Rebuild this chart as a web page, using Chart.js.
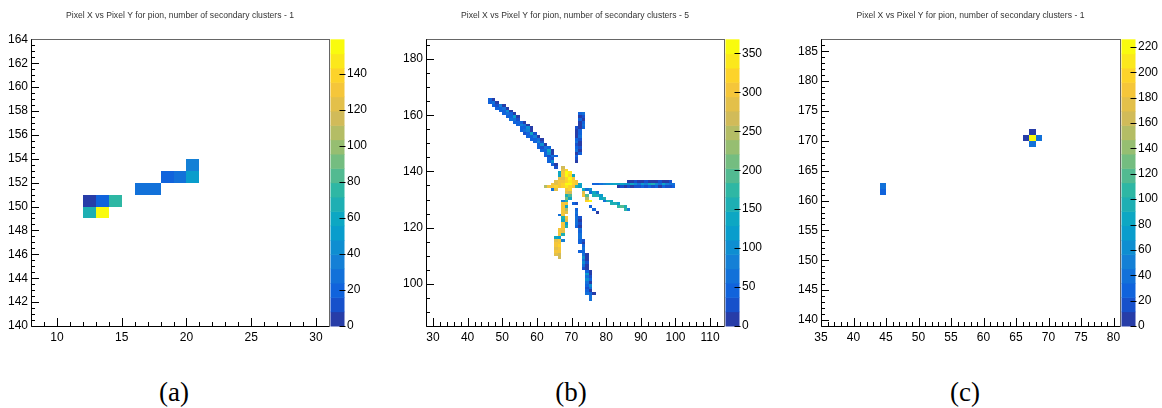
<!DOCTYPE html>
<html>
<head>
<meta charset="utf-8">
<script src="https://cdn.jsdelivr.net/npm/chart.js@4.4.1/dist/chart.umd.min.js"></script>
<style>
  html, body { margin: 0; padding: 0; background: #fff; }
  body { width: 1162px; height: 408px; position: relative; overflow: hidden; }
  .panel { position: absolute; top: 0; height: 345px; }
  .caption { position: absolute; top: 377px; line-height: 32px; font: 27px "Liberation Serif", "DejaVu Serif", serif; color: #000; transform: translateX(-50%); }
</style>
</head>
<body>
<div class="panel" style="left:0;width:390px"><canvas id="ch-a"></canvas></div>
<div class="panel" style="left:390px;width:390px"><canvas id="ch-b"></canvas></div>
<div class="panel" style="left:780px;width:382px"><canvas id="ch-c"></canvas></div>
<div class="caption" style="left:174px">(a)</div>
<div class="caption" style="left:571px">(b)</div>
<div class="caption" style="left:965px">(c)</div>

<script>
// cells are [pixelX, pixelY, count]

// (a) one secondary cluster
const cellsA = [
  [12, 149, 66], [13, 149, 152],
  [12, 150, 5], [13, 150, 22], [14, 150, 76],
  [16, 151, 30], [17, 151, 30],
  [18, 152, 20], [19, 152, 28], [20, 152, 54],
  [20, 153, 32],
];

// (b) five secondary clusters, one list per track
const trackNW = [
  [46, 165, 40], [47, 165, 15],
  [46, 164, 55], [47, 164, 60], [48, 164, 10],
  [47, 163, 45], [48, 163, 35], [49, 163, 90], [50, 163, 12],
  [48, 162, 55], [49, 162, 50], [50, 162, 70], [51, 162, 15],
  [49, 161, 40], [50, 161, 45], [51, 161, 110], [52, 161, 10],
  [50, 160, 50], [51, 160, 60], [52, 160, 55], [53, 160, 18],
  [51, 159, 45], [52, 159, 40], [53, 159, 120], [54, 159, 12],
  [52, 158, 65], [53, 158, 70], [54, 158, 20],
  [53, 157, 40], [54, 157, 50], [55, 157, 45], [56, 157, 10],
  [54, 156, 55], [55, 156, 85], [56, 156, 60], [57, 156, 15],
  [55, 155, 45], [56, 155, 55], [57, 155, 100], [58, 155, 14],
  [55, 154, 50], [56, 154, 60], [57, 154, 75], [58, 154, 12],
  [56, 153, 35], [57, 153, 45], [58, 153, 130], [59, 153, 25],
  [57, 152, 55], [58, 152, 50], [59, 152, 90], [60, 152, 15],
  [58, 151, 45], [59, 151, 40], [60, 151, 60], [61, 151, 12],
  [59, 150, 55], [60, 150, 80], [61, 150, 20],
  [60, 149, 50], [61, 149, 110], [62, 149, 16],
  [60, 148, 45], [61, 148, 20], [62, 148, 60], [63, 148, 45],
  [61, 147, 50], [62, 147, 45], [63, 147, 140], [64, 147, 15],
  [62, 146, 55], [63, 146, 95], [64, 146, 12],
  [62, 145, 45], [63, 145, 25], [64, 145, 70], [65, 145, 50],
  [63, 144, 40], [64, 144, 30],
  [63, 143, 55], [64, 143, 110],
  [64, 142, 45], [65, 142, 15],
  [65, 141, 20],
];

const trackN = [
  [72, 160, 45], [73, 160, 60], [72, 159, 15], [73, 159, 20], [72, 158, 50], [73, 158, 12],
  [72, 157, 18], [73, 157, 45], [72, 156, 10], [73, 156, 60], [72, 155, 14], [73, 155, 50],
  [71, 155, 20], [71, 154, 12], [72, 154, 55], [71, 153, 15], [72, 153, 40],
  [71, 152, 10], [72, 152, 60], [71, 151, 45], [72, 151, 20], [71, 150, 70],
  [72, 150, 15], [71, 149, 35], [72, 149, 12], [71, 148, 55], [72, 148, 20], [71, 147, 60],
  [72, 147, 15], [71, 146, 15], [72, 146, 50], [71, 145, 50], [71, 144, 20], [71, 143, 12],
];

const trackE = [
  [86, 136, 15], [87, 136, 12], [88, 136, 20], [89, 136, 10], [90, 136, 14], [91, 136, 25], [92, 136, 12],
  [93, 136, 18], [94, 136, 10], [95, 136, 22], [96, 136, 14], [97, 136, 12], [98, 136, 20],
  [76, 135, 55], [77, 135, 50], [78, 135, 65], [79, 135, 90], [80, 135, 110], [81, 135, 120],
  [82, 135, 130], [83, 135, 120], [84, 135, 140], [85, 135, 125], [86, 135, 110], [87, 135, 130],
  [88, 135, 100], [89, 135, 60], [90, 135, 120], [91, 135, 80], [92, 135, 130], [93, 135, 150],
  [94, 135, 110], [95, 135, 60], [96, 135, 140], [97, 135, 90], [98, 135, 70], [99, 135, 60],
  [83, 134, 15], [84, 134, 20], [85, 134, 12], [86, 134, 25], [87, 134, 15], [88, 134, 30],
  [89, 134, 20], [90, 134, 50], [91, 134, 25], [92, 134, 55], [93, 134, 20], [94, 134, 40],
  [95, 134, 15], [96, 134, 45], [97, 134, 20], [98, 134, 30], [99, 134, 50],
];

const trackSE = [
  [73, 133, 140], [74, 133, 60], [75, 133, 110], [75, 132, 70], [76, 132, 130], [77, 132, 90],
  [76, 131, 155], [77, 131, 150], [78, 131, 120],
  [78, 130, 145], [79, 130, 160], [79, 129, 60], [80, 129, 150], [81, 129, 140],
  [81, 128, 160], [82, 128, 150], [83, 128, 120],
  [83, 127, 175], [84, 127, 190], [85, 127, 150], [85, 126, 180], [86, 126, 80],
  [73, 132, 290], [73, 131, 310], [74, 131, 200], [74, 130, 240], [74, 129, 330], [75, 129, 360],
  [75, 127, 55], [76, 126, 50], [77, 125, 15],
];

const core = [
  [67, 141, 270], [67, 140, 290], [68, 140, 320],
  [66, 139, 140], [67, 139, 310], [68, 139, 355], [69, 139, 340],
  [66, 138, 140], [67, 138, 300], [68, 138, 360], [69, 138, 330], [70, 138, 130],
  [66, 137, 280], [67, 137, 290], [68, 137, 320], [69, 137, 350], [70, 137, 310],
  [65, 136, 290], [66, 136, 300], [67, 136, 310], [68, 136, 330], [69, 136, 345], [70, 136, 320], [71, 136, 300],
  [64, 135, 300], [65, 135, 290], [66, 135, 310], [67, 135, 320], [68, 135, 355], [69, 135, 365], [70, 135, 315], [71, 135, 300], [72, 135, 140],
  [62, 134, 250], [63, 134, 300], [64, 134, 310], [65, 134, 320], [66, 134, 305], [67, 134, 320],
  [68, 134, 340], [69, 134, 320], [70, 134, 300], [71, 134, 150], [72, 134, 120],
  [64, 133, 60], [65, 133, 290],
];

const trackS = [
  [69, 133, 320], [68, 133, 300], [69, 132, 260], [68, 132, 290], [69, 131, 200], [68, 131, 160],
  [68, 130, 210], [69, 130, 140], [68, 129, 150], [67, 129, 90], [68, 128, 300], [67, 128, 310],
  [67, 127, 300], [68, 127, 140], [67, 126, 310], [68, 126, 250], [67, 125, 300], [68, 125, 290],
  [67, 124, 310], [66, 124, 60], [67, 123, 150], [68, 123, 300], [67, 122, 130], [68, 122, 290],
  [67, 121, 300], [68, 121, 120], [67, 120, 300], [68, 120, 160],
  [66, 119, 310], [67, 119, 300], [66, 118, 310], [67, 118, 290], [66, 117, 300], [67, 117, 150],
  [65, 116, 140], [66, 116, 120], [66, 115, 300], [67, 115, 80], [65, 115, 290],
  [66, 114, 310], [65, 114, 300], [66, 113, 320], [65, 113, 300], [66, 112, 310], [65, 112, 290],
  [66, 111, 300], [65, 111, 310], [66, 110, 270], [65, 110, 280], [66, 109, 260],
  [70, 128, 50], [71, 128, 20],
];

const trackSS = [
  [71, 126, 50], [71, 125, 60], [71, 124, 50], [71, 123, 60], [72, 123, 20], [71, 122, 70],
  [72, 122, 15], [71, 121, 60], [72, 121, 20], [71, 120, 50], [72, 120, 15], [72, 119, 60], [72, 118, 50],
  [72, 117, 70], [72, 116, 60], [72, 115, 40], [73, 115, 20], [73, 114, 15], [72, 114, 50], [73, 113, 50],
  [73, 112, 60], [72, 111, 50], [73, 111, 40], [73, 110, 60], [74, 110, 15], [73, 109, 100],
  [74, 109, 10], [74, 108, 15], [73, 108, 70], [73, 107, 110], [74, 107, 20], [73, 106, 60],
  [74, 106, 10], [73, 105, 25], [74, 105, 10], [74, 104, 50], [75, 104, 15], [74, 103, 120],
  [75, 103, 10], [74, 102, 60], [75, 102, 20], [74, 101, 100], [75, 101, 40], [74, 100, 60],
  [75, 100, 15], [74, 99, 50], [75, 99, 110], [74, 98, 20], [75, 98, 60], [74, 97, 40],
  [75, 97, 15], [74, 96, 60], [75, 96, 50], [76, 96, 10], [75, 95, 70], [75, 94, 60],
];

// (c) one secondary cluster
const cellsC = [
  [44, 161, 25], [44, 162, 45],
  [67, 169, 38], [66, 170, 5], [67, 170, 224], [68, 170, 35], [67, 171, 5],
];

const titleA = 'Pixel X vs Pixel Y for pion, number of secondary clusters - 1';
const titleB = 'Pixel X vs Pixel Y for pion, number of secondary clusters - 5';
const titleC = 'Pixel X vs Pixel Y for pion, number of secondary clusters - 1';

// kBird palette
const birdStops = [0, 0.125, 0.25, 0.375, 0.5, 0.625, 0.75, 0.875, 1];
const birdR = [0.2082, 0.0592, 0.0780, 0.0232, 0.1802, 0.5301, 0.8186, 0.9956, 0.9764];
const birdG = [0.1664, 0.3599, 0.5041, 0.6419, 0.7178, 0.7492, 0.7328, 0.7862, 0.9832];
const birdB = [0.5293, 0.8684, 0.8385, 0.7914, 0.6425, 0.4662, 0.3499, 0.1968, 0.0539];
const NLEVELS = 20;

function bird(t) {
  let i = 0;
  while (i < birdStops.length - 2 && t > birdStops[i + 1]) i++;
  const f = (t - birdStops[i]) / (birdStops[i + 1] - birdStops[i]);
  const c = arr => Math.round(255 * (arr[i] + f * (arr[i + 1] - arr[i])));
  return `rgb(${c(birdR)},${c(birdG)},${c(birdB)})`;
}
function levelColor(lvl) {
  const k = Math.floor((lvl + 0.99) * 255 / NLEVELS);
  return bird(Math.min(k, 254) / 254);
}
function cellColor(v, zmax) {
  return levelColor(Math.min(NLEVELS - 1, Math.floor(v / zmax * NLEVELS)));
}

const toPoints = cells => cells.map(([x, y, v]) => ({ x, y, v }));

// draws the bins, the palette, the frame and ROOT-style inner ticks
const th2Plugin = {
  id: 'th2',
  beforeDatasetsDraw(chart) {
    const { ctx, chartArea: a, scales: { x, y, z } } = chart;
    ctx.save();
    ctx.beginPath(); ctx.rect(a.left, a.top, a.width, a.height); ctx.clip();
    chart.data.datasets.forEach(ds => ds.data.forEach(p => {
      const x0 = Math.round(x.getPixelForValue(p.x)), x1 = Math.round(x.getPixelForValue(p.x + 1));
      const y0 = Math.round(y.getPixelForValue(p.y + 1)), y1 = Math.round(y.getPixelForValue(p.y));
      ctx.fillStyle = cellColor(p.v, z.max);
      ctx.fillRect(x0, y0, x1 - x0, y1 - y0);
    }));
    ctx.restore();
  },
  afterDraw(chart) {
    const { ctx, chartArea: a, scales: { x, y, z } } = chart;
    const minor = chart.options.plugins.th2;
    ctx.save();

    // palette
    const pl = a.right + 1.5, pr = a.right + 15.5;
    for (let i = 0; i < NLEVELS; i++) {
      const yb = z.getPixelForValue(i * z.max / NLEVELS), yt = z.getPixelForValue((i + 1) * z.max / NLEVELS);
      ctx.fillStyle = levelColor(i);
      ctx.fillRect(pl, yt, pr - pl, yb - yt + 0.5);
    }
    ctx.strokeStyle = '#000';
    ctx.lineWidth = 1;
    ctx.beginPath();
    z.ticks.forEach(t => {
      const py = Math.round(z.getPixelForValue(t.value)) + 0.5;
      ctx.moveTo(pr - 5, py); ctx.lineTo(pr + 1, py);
    });
    ctx.stroke();

    // ticks inside the frame
    ctx.beginPath();
    const majX = x.ticks.map(t => t.value), majY = y.ticks.map(t => t.value);
    const isMaj = (list, v) => list.some(m => Math.abs(m - v) < 1e-6);
    for (let v = Math.ceil(x.min / minor.x) * minor.x; v <= x.max + 1e-6; v += minor.x) {
      const px = Math.round(x.getPixelForValue(v)) + 0.5;
      const len = isMaj(majX, v) ? 8 : 4;
      ctx.moveTo(px, a.bottom); ctx.lineTo(px, a.bottom - len);
    }
    for (let v = Math.ceil(y.min / minor.y) * minor.y; v <= y.max + 1e-6; v += minor.y) {
      const py = Math.round(y.getPixelForValue(v)) + 0.5;
      const len = isMaj(majY, v) ? 8 : 4;
      ctx.moveTo(a.left, py); ctx.lineTo(a.left + len, py);
    }
    ctx.stroke();

    // frame
    ctx.strokeStyle = '#666';
    ctx.strokeRect(Math.round(a.left) + 0.5, Math.round(a.top) + 0.5, Math.round(a.width), Math.round(a.height));
    ctx.strokeStyle = '#000';
    ctx.beginPath();
    ctx.moveTo(Math.round(a.left) + 0.5, a.top); ctx.lineTo(Math.round(a.left) + 0.5, Math.round(a.bottom) + 0.5);
    ctx.lineTo(a.right, Math.round(a.bottom) + 0.5);
    ctx.stroke();
    ctx.restore();
  }
};

Chart.defaults.font.family = '"Liberation Sans", Arial, sans-serif';
Chart.defaults.color = '#000';

function th2Chart(id, p) {
  const W = p.width, H = 345;
  const tickFont = { size: 12 };
  return new Chart(document.getElementById(id), {
    type: 'scatter',
    data: { datasets: p.sets.map(cells => ({ data: toPoints(cells), pointRadius: 0, showLine: false })) },
    options: {
      responsive: true,
      maintainAspectRatio: false,
      animation: false,
      layout: { padding: 0 },
      plugins: {
        legend: { display: false },
        tooltip: { enabled: false },
        title: {
          display: true, text: p.title, fullSize: false, color: '#333',
          font: { size: 8.6, weight: 'normal' }, padding: { top: 10, bottom: 19 },
        },
        th2: { x: p.minorX, y: p.minorY },
      },
      scales: {
        x: {
          type: 'linear', position: 'bottom', min: p.xMin, max: p.xMax,
          grid: { display: false, drawTicks: false }, border: { display: false },
          ticks: { stepSize: p.xStep, includeBounds: false, padding: 4, font: tickFont, maxRotation: 0, autoSkip: false },
          afterFit: s => { s.height = H - 326; },
        },
        y: {
          type: 'linear', position: 'left', min: p.yMin, max: p.yMax,
          grid: { display: false, drawTicks: false }, border: { display: false },
          ticks: { stepSize: p.yStep, includeBounds: false, padding: 3, font: tickFont, autoSkip: false },
          afterFit: s => { s.width = p.left; },
        },
        z: {
          axis: 'y', type: 'linear', position: 'right', min: 0, max: p.zMax,
          grid: { display: true, drawOnChartArea: false, drawTicks: true, tickLength: 16, color: 'rgba(0,0,0,0)' },
          border: { display: false },
          ticks: { stepSize: p.zStep, includeBounds: false, padding: 2, font: tickFont, autoSkip: false },
          afterFit: s => { s.width = W - p.right; },
        },
      },
    },
    plugins: [th2Plugin],
  });
}

th2Chart('ch-a', {
  width: 390, left: 31, right: 329, title: titleA, sets: [cellsA],
  xMin: 8, xMax: 31, xStep: 5, minorX: 1,
  yMin: 140, yMax: 164, yStep: 2, minorY: 0.5,
  zMax: 159, zStep: 20,
});
th2Chart('ch-b', {
  width: 390, left: 36, right: 334, title: titleB,
  sets: [trackNW, trackN, trackE, trackSE, core, trackS, trackSS],
  xMin: 28, xMax: 114, xStep: 10, minorX: 2,
  yMin: 85, yMax: 187, yStep: 20, minorY: 5,
  zMax: 368, zStep: 50,
});
th2Chart('ch-c', {
  width: 382, left: 41, right: 340, title: titleC, sets: [cellsC],
  xMin: 35, xMax: 81, xStep: 5, minorX: 1,
  yMin: 139, yMax: 187, yStep: 5, minorY: 1,
  zMax: 226, zStep: 20,
});
</script>
</body>
</html>
